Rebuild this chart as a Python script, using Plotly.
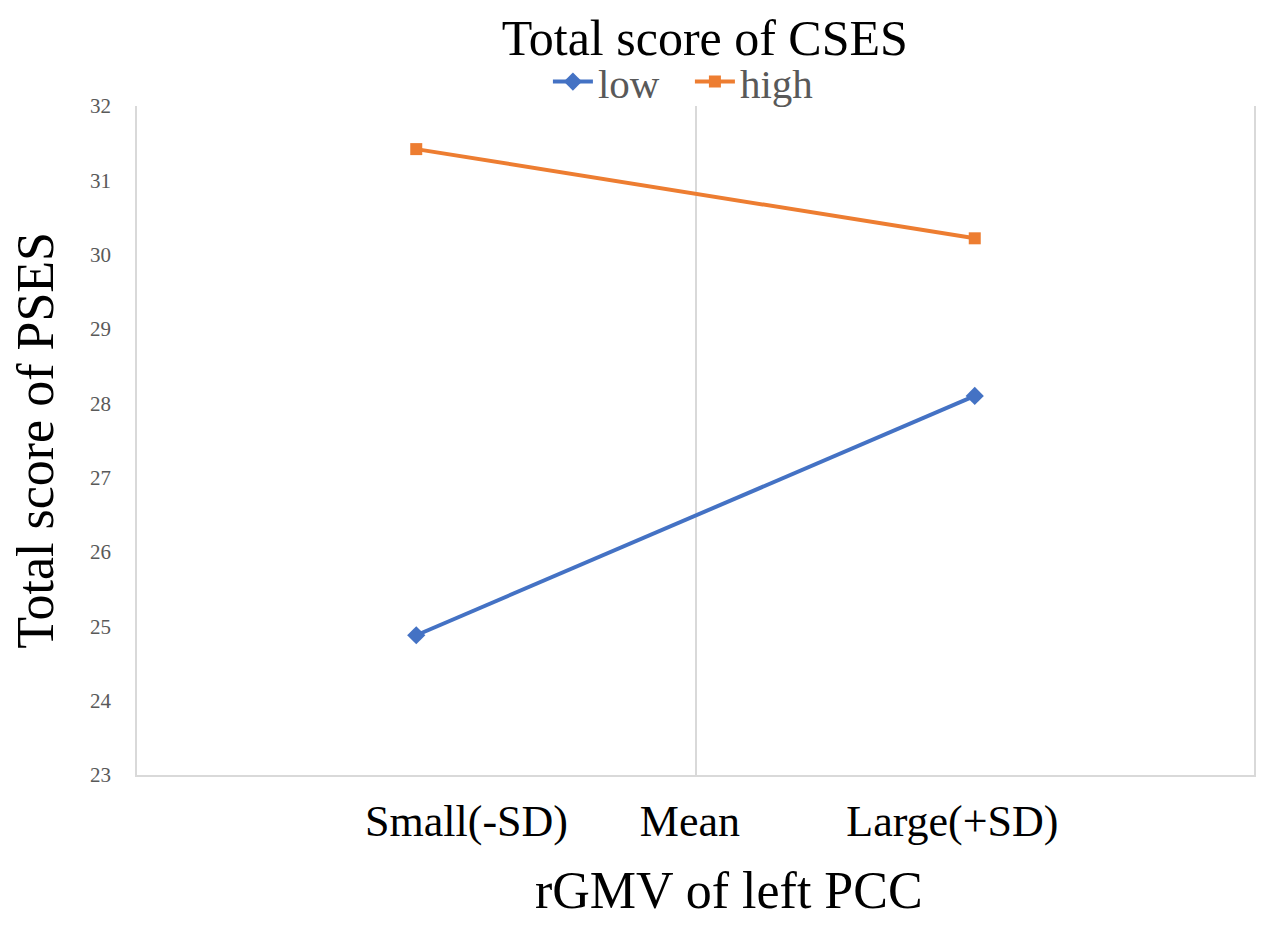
import plotly.graph_objects as go

# categories on the x axis and where each sits on the numeric axis
categories = ["Small(-SD)", "Mean", "Large(+SD)"]
cat_pos = [-1, 0, 1]

# simple slopes (values at -SD and +SD)
point_cats = ["Small(-SD)", "Large(+SD)"]
low_vals = [24.88, 28.1]
high_vals = [31.42, 30.22]

y_ticks = [23, 24, 25, 26, 27, 28, 29, 30, 31, 32]

pos = dict(zip(categories, cat_pos))
xs = [pos[c] for c in point_cats]

FONT = "Liberation Serif, Times New Roman, serif"

fig = go.Figure()
fig.add_trace(go.Scatter(
    x=xs, y=low_vals, name="low", mode="lines+markers",
    line=dict(color="#4472C4", width=4),
    marker=dict(symbol="diamond", size=14, color="#4472C4"),
))
fig.add_trace(go.Scatter(
    x=xs, y=high_vals, name="high", mode="lines+markers",
    line=dict(color="#ED7D31", width=4),
    marker=dict(symbol="square", size=12, color="#ED7D31"),
))

# page body adds an 8px margin, so the figure is a bit smaller than the window
fig.update_layout(
    width=1251, height=914,
    margin=dict(l=129, r=3, t=98, b=147),
    paper_bgcolor="white", plot_bgcolor="white",
    font=dict(family=FONT, color="black"),
    title=dict(text="Total score of CSES", font=dict(size=50, color="black"),
               x=0.557, xanchor="center", y=0.968, yanchor="middle"),
    legend=dict(orientation="h", x=0.495, xanchor="center", y=1.036, yanchor="middle",
                font=dict(size=41, color="#595959"), itemwidth=40,
                entrywidth=87, bgcolor="rgba(0,0,0,0)"),
    showlegend=True,
)

# labels in the source sit a little off the category points
label_pos = [-0.82, -0.02, 0.92]
fig.update_xaxes(
    range=[-2, 2], showgrid=False, zeroline=False,
    tickmode="array", tickvals=label_pos, ticktext=categories,
    tickfont=dict(size=44, color="black"), ticks="", ticklabelstandoff=6,
    showline=True, linecolor="#d9d9d9", linewidth=1.5,
    minor=dict(tickmode="array", tickvals=[0], showgrid=True,
               gridcolor="#d9d9d9", gridwidth=1.5, ticks=""),
)
fig.update_yaxes(
    range=[23, 32], showgrid=False, zeroline=False,
    tickmode="array", tickvals=y_ticks,
    tickfont=dict(size=21, color="#595959"), ticks="", ticklabelstandoff=20,
    showline=True, mirror=True, linecolor="#d9d9d9", linewidth=1.5,
)

fig.add_annotation(text="Total score of PSES", xref="paper", yref="paper",
                   x=-0.0912, y=0.5, xanchor="center", yanchor="middle",
                   textangle=-90, showarrow=False, font=dict(size=52, color="black"))
fig.add_annotation(text="rGMV of left PCC", xref="paper", yref="paper",
                   x=0.53, y=-0.172, xanchor="center", yanchor="middle",
                   showarrow=False, font=dict(size=52, color="black"))

fig.write_html("out.html")
